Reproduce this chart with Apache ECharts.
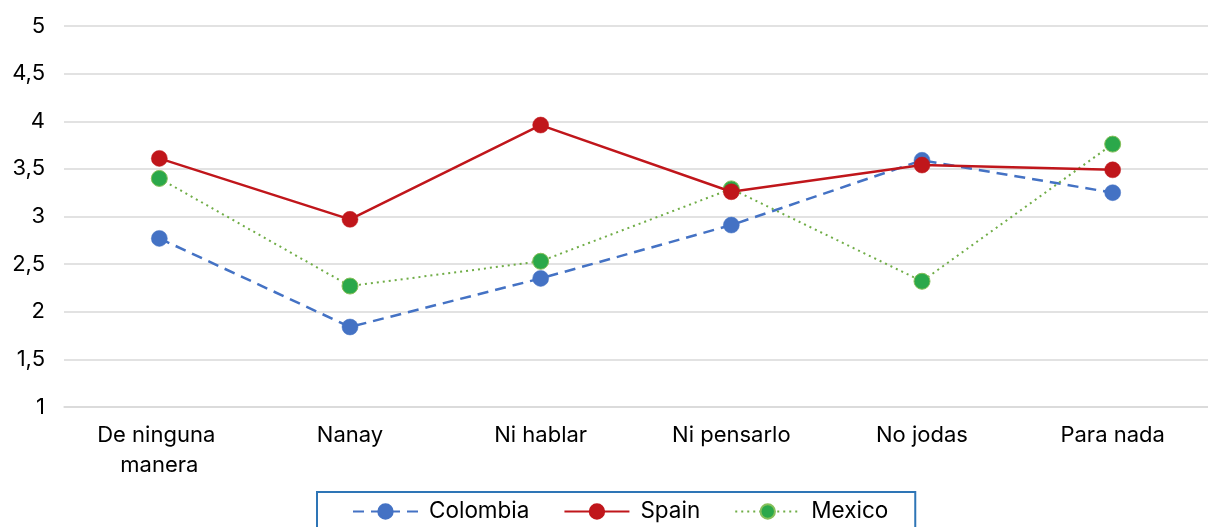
<!DOCTYPE html>
<html>
<head>
<meta charset="utf-8">
<script src="https://cdn.jsdelivr.net/npm/echarts@6/dist/echarts.min.js"></script>
<style>
  html, body { margin: 0; padding: 0; background: #fff; }
  #chart { width: 1208px; height: 527px; }
</style>
</head>
<body>
<div id="chart"></div>
<script>
// Mean rating per expression, by country
const categories = ['De ninguna manera', 'Nanay', 'Ni hablar', 'Ni pensarlo', 'No jodas', 'Para nada'];
const colombia = [2.77, 1.84, 2.35, 2.91, 3.59, 3.25];
const spain    = [3.61, 2.97, 3.96, 3.26, 3.54, 3.49];
const mexico   = [3.40, 2.27, 2.53, 3.29, 2.32, 3.76];

const FONT = 'Inter';
const chart = echarts.init(document.getElementById('chart'), null, { renderer: 'canvas' });

chart.setOption({
  animation: false,
  backgroundColor: '#ffffff',
  textStyle: { fontFamily: FONT },
  grid: { left: 64, right: -5, top: 26, bottom: 120, containLabel: false },
  legend: {
    data: ['Colombia', 'Spain', 'Mexico'],
    left: 317,
    top: 492,
    orient: 'horizontal',
    itemWidth: 65,
    itemHeight: 18,
    itemGap: 34,
    padding: [8, 27, 30, 35],
    borderColor: '#2E75B6',
    borderWidth: 2,
    textStyle: { fontFamily: FONT, fontSize: 22.5, color: '#000', padding: [0, 0, 0, 6] }
  },
  xAxis: {
    type: 'category',
    data: categories,
    boundaryGap: true,
    axisLine: { show: true, lineStyle: { color: '#D9D9D9', width: 1.5 } },
    axisTick: { show: false },
    axisLabel: {
      fontFamily: FONT, fontSize: 22, color: '#000', margin: 13,
      lineHeight: 30, width: 160, overflow: 'break', interval: 0
    }
  },
  yAxis: {
    type: 'value',
    min: 1, max: 5, interval: 0.5,
    axisLine: { show: false },
    axisTick: { show: false },
    splitLine: { lineStyle: { color: '#D9D9D9', width: 1.5 } },
    axisLabel: {
      fontFamily: FONT, fontSize: 22, color: '#000', margin: 19,
      formatter: v => String(v).replace('.', ',')
    }
  },
  series: [
    {
      name: 'Colombia', type: 'line', data: colombia, z: 2,
      symbol: 'circle', symbolSize: 16,
      lineStyle: { color: '#4472C4', width: 2.5, type: [11, 7] },
      itemStyle: { color: '#4472C4', borderColor: '#4472C4', borderWidth: 0.5 }
    },
    {
      name: 'Mexico', type: 'line', data: mexico, z: 3,
      symbol: 'circle', symbolSize: 16,
      lineStyle: { color: '#70AD47', width: 2, type: [2, 4] },
      itemStyle: { color: '#2BA84A', borderColor: '#86C05A', borderWidth: 1 }
    },
    {
      name: 'Spain', type: 'line', data: spain, z: 4,
      symbol: 'circle', symbolSize: 16,
      lineStyle: { color: '#C0161B', width: 2.5 },
      itemStyle: { color: '#C0161B', borderColor: '#C0161B', borderWidth: 0.5 }
    }
  ]
});
</script>
</body>
</html>
